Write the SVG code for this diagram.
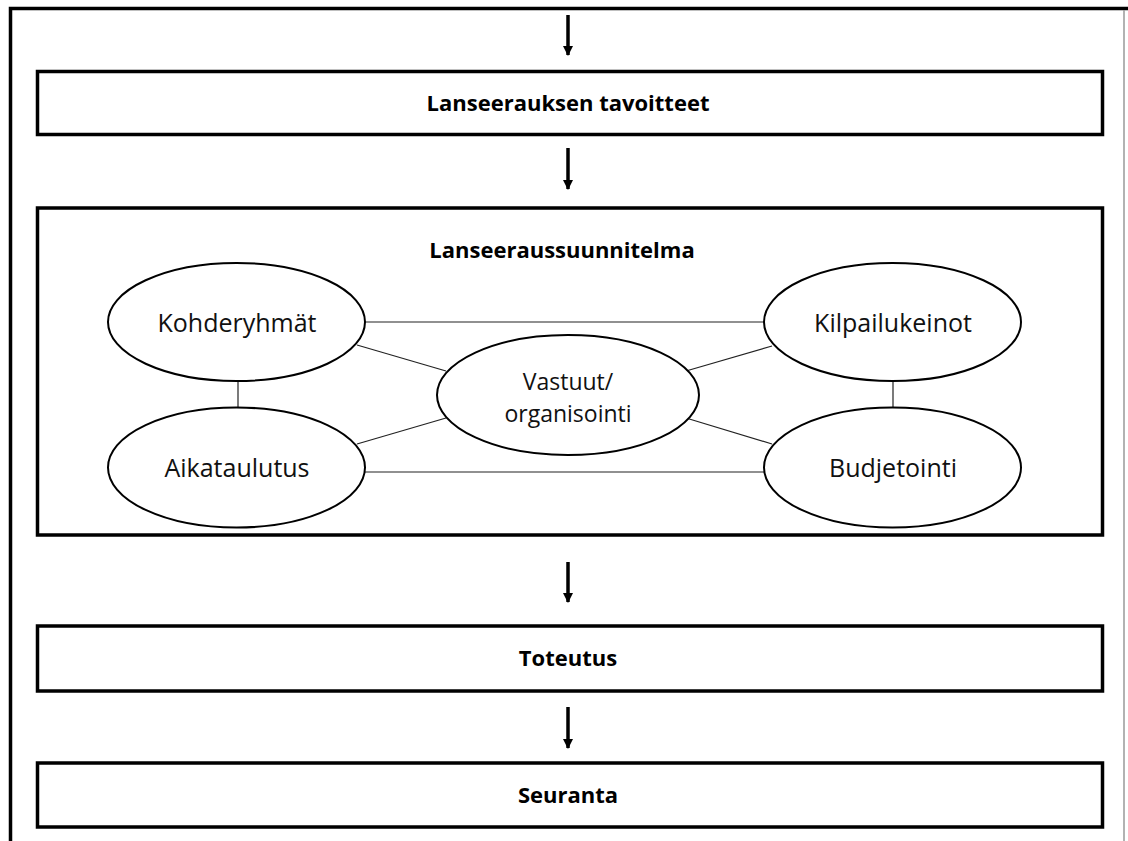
<svg xmlns="http://www.w3.org/2000/svg" width="1128" height="841" viewBox="0 0 1128 841">
<style>
.box{fill:#fff;stroke:#000;stroke-width:3.5}
.ell{fill:#fff;stroke:#000;stroke-width:2}
.conn{stroke:#222;stroke-width:1.2;fill:none}
.arrow{stroke:#000;stroke-width:3.5;fill:none}
.title{font-family:"Open Sans",sans-serif;font-weight:bold;font-size:22px;text-anchor:middle;fill:#000}
.lbl{font-family:"Open Sans",sans-serif;font-size:25px;text-anchor:middle;fill:#111}
.lbl2{font-family:"Open Sans",sans-serif;font-size:23px;text-anchor:middle;fill:#111}
</style>
<defs>
<marker id="ah" viewBox="0 0 10 10" refX="9" refY="5" markerWidth="3" markerHeight="3" orient="auto" markerUnits="strokeWidth">
<path d="M0,0 L10,5 L0,10 z" fill="#000"/>
</marker>
</defs>
<rect width="1128" height="841" fill="#fff"/>
<g id="frame">
<path d="M10.5,841 V8.5 H1128" fill="none" stroke="#000" stroke-width="3.5"/>
<line x1="1124" y1="10" x2="1124" y2="841" stroke="#999" stroke-width="1.5"/>
</g>
<g id="arrows">
<line class="arrow" x1="568" y1="15" x2="568" y2="55" marker-end="url(#ah)"/>
<line class="arrow" x1="568" y1="148" x2="568" y2="189" marker-end="url(#ah)"/>
<line class="arrow" x1="568" y1="562" x2="568" y2="602" marker-end="url(#ah)"/>
<line class="arrow" x1="568" y1="707" x2="568" y2="748" marker-end="url(#ah)"/>
</g>
<g id="tavoitteet">
<rect class="box" x="37.5" y="71.5" width="1065" height="63"/>
<text class="title" x="568" y="111">Lanseerauksen tavoitteet</text>
</g>
<g id="suunnitelma">
<rect class="box" x="37.5" y="208" width="1065" height="327"/>
<text class="title" x="562" y="258">Lanseeraussuunnitelma</text>
</g>
<g id="connectors">
<line class="conn" x1="365" y1="322" x2="764" y2="322"/>
<line class="conn" x1="365" y1="472" x2="764" y2="472"/>
<line class="conn" x1="238" y1="381" x2="238" y2="408"/>
<line class="conn" x1="893" y1="381" x2="893" y2="408"/>
<line class="conn" x1="357" y1="345" x2="446" y2="371"/>
<line class="conn" x1="357" y1="444" x2="446" y2="418"/>
<line class="conn" x1="772" y1="346" x2="686" y2="371"/>
<line class="conn" x1="772" y1="444" x2="686" y2="418"/>
</g>
<g id="kohderyhmat">
<ellipse class="ell" cx="236.5" cy="322" rx="128.5" ry="59"/>
<text class="lbl" x="237" y="332">Kohderyhmät</text>
</g>
<g id="aikataulutus">
<ellipse class="ell" cx="236.5" cy="467.5" rx="128.5" ry="60"/>
<text class="lbl" x="237" y="477">Aikataulutus</text>
</g>
<g id="kilpailukeinot">
<ellipse class="ell" cx="892.5" cy="322" rx="128.5" ry="59"/>
<text class="lbl" x="893" y="332">Kilpailukeinot</text>
</g>
<g id="budjetointi">
<ellipse class="ell" cx="892.5" cy="467.5" rx="128.5" ry="60"/>
<text class="lbl" x="893" y="477">Budjetointi</text>
</g>
<g id="vastuut">
<ellipse class="ell" cx="568" cy="395" rx="131" ry="60"/>
<text class="lbl2" x="568" y="390">Vastuut/</text>
<text class="lbl2" x="568" y="422">organisointi</text>
</g>
<g id="toteutus">
<rect class="box" x="37.5" y="626" width="1065" height="65"/>
<text class="title" x="568" y="666">Toteutus</text>
</g>
<g id="seuranta">
<rect class="box" x="37.5" y="763" width="1065" height="64"/>
<text class="title" x="568" y="803">Seuranta</text>
</g>
</svg>
